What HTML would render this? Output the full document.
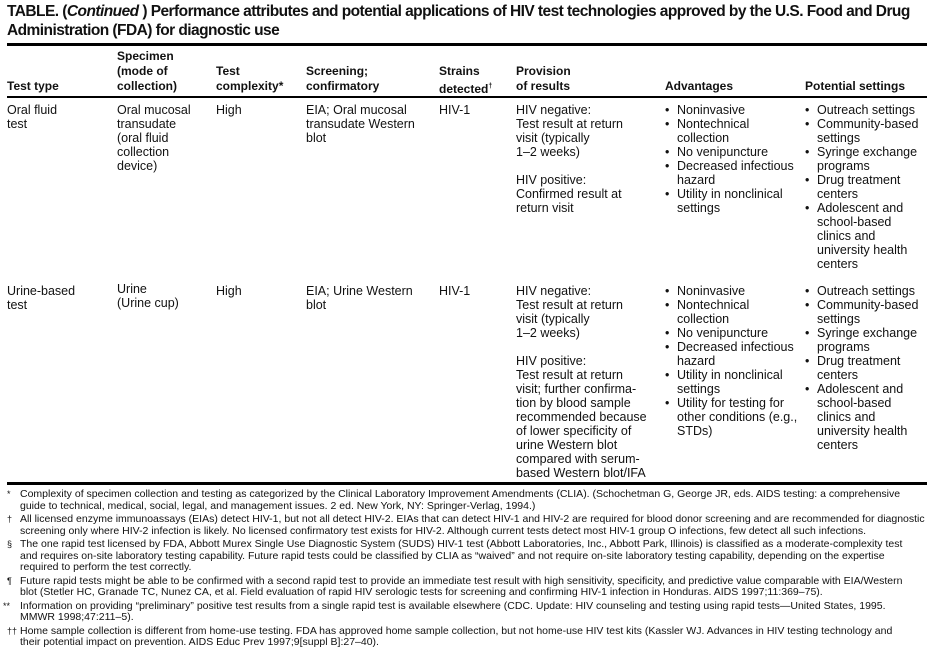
<!DOCTYPE html>
<html><head><meta charset="utf-8"><style>
body{margin:0;background:#fff;}
#p{position:relative;width:933px;height:657px;overflow:hidden;font-family:"Liberation Sans",Arial,sans-serif;color:#111;}
.t{position:absolute;left:7px;font-weight:bold;font-size:15.5px;line-height:19px;white-space:nowrap;letter-spacing:-0.55px}
.r{position:absolute;left:7px;width:920px;background:#000}
.h{position:absolute;font-weight:bold;font-size:12px;line-height:15px;white-space:nowrap}
.c{position:absolute;font-size:12.5px;line-height:14px;white-space:nowrap}
.b{position:absolute;font-size:12.5px;line-height:14px;white-space:nowrap}
.b div{position:relative;padding-left:12px}
.b div:before{content:"•";position:absolute;left:0;top:0}
.f{position:absolute;left:7px;font-size:10.5px;line-height:11.6px;white-space:nowrap}
.f span.m{position:absolute;left:0;font-size:9px}
.f div{position:relative;padding-left:13px;margin-bottom:1.8px}
</style></head><body><div id="p">
<div class="t" style="top:2px">TABLE. (<i>Continued</i> ) Performance attributes and potential applications of HIV test technologies approved by the U.S. Food and Drug<br>Administration (FDA) for diagnostic use</div>
<div class="r" style="top:43px;height:3px"></div>
<div class="h" style="left:7px;top:79px">Test type</div>
<div class="h" style="left:117px;top:49px">Specimen<br>(mode of<br>collection)</div>
<div class="h" style="left:216px;top:64px">Test<br>complexity*</div>
<div class="h" style="left:306px;top:64px">Screening;<br>confirmatory</div>
<div class="h" style="left:439px;top:64px">Strains<br>detected<sup style="font-size:7px">†</sup></div>
<div class="h" style="left:516px;top:64px">Provision<br>of results</div>
<div class="h" style="left:665px;top:79px">Advantages</div>
<div class="h" style="left:805px;top:79px">Potential settings</div>
<div class="r" style="top:96px;height:2px"></div>

<div class="c" style="left:7px;top:103px">Oral fluid<br>test</div>
<div class="c" style="left:117px;top:103px">Oral mucosal<br>transudate<br>(oral fluid<br>collection<br>device)</div>
<div class="c" style="left:216px;top:103px">High</div>
<div class="c" style="left:306px;top:103px">EIA; Oral mucosal<br>transudate Western<br>blot</div>
<div class="c" style="left:439px;top:103px">HIV-1</div>
<div class="c" style="left:516px;top:103px">HIV negative:<br>Test result at return<br>visit (typically<br>1–2 weeks)<br><br>HIV positive:<br>Confirmed result at<br>return visit</div>
<div class="b" style="left:665px;top:103px"><div>Noninvasive</div><div>Nontechnical<br>collection</div><div>No venipuncture</div><div>Decreased infectious<br>hazard</div><div>Utility in nonclinical<br>settings</div></div>
<div class="b" style="left:805px;top:103px"><div>Outreach settings</div><div>Community-based<br>settings</div><div>Syringe exchange<br>programs</div><div>Drug treatment<br>centers</div><div>Adolescent and<br>school-based<br>clinics and<br>university health<br>centers</div></div>

<div class="c" style="left:7px;top:284px">Urine-based<br>test</div>
<div class="c" style="left:117px;top:282px">Urine<br>(Urine cup)</div>
<div class="c" style="left:216px;top:284px">High</div>
<div class="c" style="left:306px;top:284px">EIA; Urine Western<br>blot</div>
<div class="c" style="left:439px;top:284px">HIV-1</div>
<div class="c" style="left:516px;top:284px">HIV negative:<br>Test result at return<br>visit (typically<br>1–2 weeks)<br><br>HIV positive:<br>Test result at return<br>visit; further confirma-<br>tion by blood sample<br>recommended because<br>of lower specificity of<br>urine Western blot<br>compared with serum-<br>based Western blot/IFA</div>
<div class="b" style="left:665px;top:284px"><div>Noninvasive</div><div>Nontechnical<br>collection</div><div>No venipuncture</div><div>Decreased infectious<br>hazard</div><div>Utility in nonclinical<br>settings</div><div>Utility for testing for<br>other conditions (e.g.,<br>STDs)</div></div>
<div class="b" style="left:805px;top:284px"><div>Outreach settings</div><div>Community-based<br>settings</div><div>Syringe exchange<br>programs</div><div>Drug treatment<br>centers</div><div>Adolescent and<br>school-based<br>clinics and<br>university health<br>centers</div></div>

<div class="r" style="top:482px;height:3px"></div>
<div class="f" style="top:489px">
<div><span class="m">*</span>Complexity of specimen collection and testing as categorized by the Clinical Laboratory Improvement Amendments (CLIA). (Schochetman G, George JR, eds. AIDS testing: a comprehensive<br>guide to technical, medical, social, legal, and management issues. 2 ed. New York, NY: Springer-Verlag, 1994.)</div>
<div><span class="m">†</span>All licensed enzyme immunoassays (EIAs) detect HIV-1, but not all detect HIV-2. EIAs that can detect HIV-1 and HIV-2 are required for blood donor screening and are recommended for diagnostic<br>screening only where HIV-2 infection is likely. No licensed confirmatory test exists for HIV-2. Although current tests detect most HIV-1 group O infections, few detect all such infections.</div>
<div><span class="m">§</span>The one rapid test licensed by FDA, Abbott Murex Single Use Diagnostic System (SUDS) HIV-1 test (Abbott Laboratories, Inc., Abbott Park, Illinois) is classified as a moderate-complexity test<br>and requires on-site laboratory testing capability. Future rapid tests could be classified by CLIA as “waived” and not require on-site laboratory testing capability, depending on the expertise<br>required to perform the test correctly.</div>
<div><span class="m">¶</span>Future rapid tests might be able to be confirmed with a second rapid test to provide an immediate test result with high sensitivity, specificity, and predictive value comparable with EIA/Western<br>blot (Stetler HC, Granade TC, Nunez CA, et al. Field evaluation of rapid HIV serologic tests for screening and confirming HIV-1 infection in Honduras. AIDS 1997;11:369–75).</div>
<div><span class="m" style="left:-4px">**</span>Information on providing “preliminary” positive test results from a single rapid test is available elsewhere (CDC. Update: HIV counseling and testing using rapid tests—United States, 1995.<br>MMWR 1998;47:211–5).</div>
<div><span class="m">††</span>Home sample collection is different from home-use testing. FDA has approved home sample collection, but not home-use HIV test kits (Kassler WJ. Advances in HIV testing technology and<br>their potential impact on prevention. AIDS Educ Prev 1997;9[suppl B]:27–40).</div>
</div>
</div></body></html>
